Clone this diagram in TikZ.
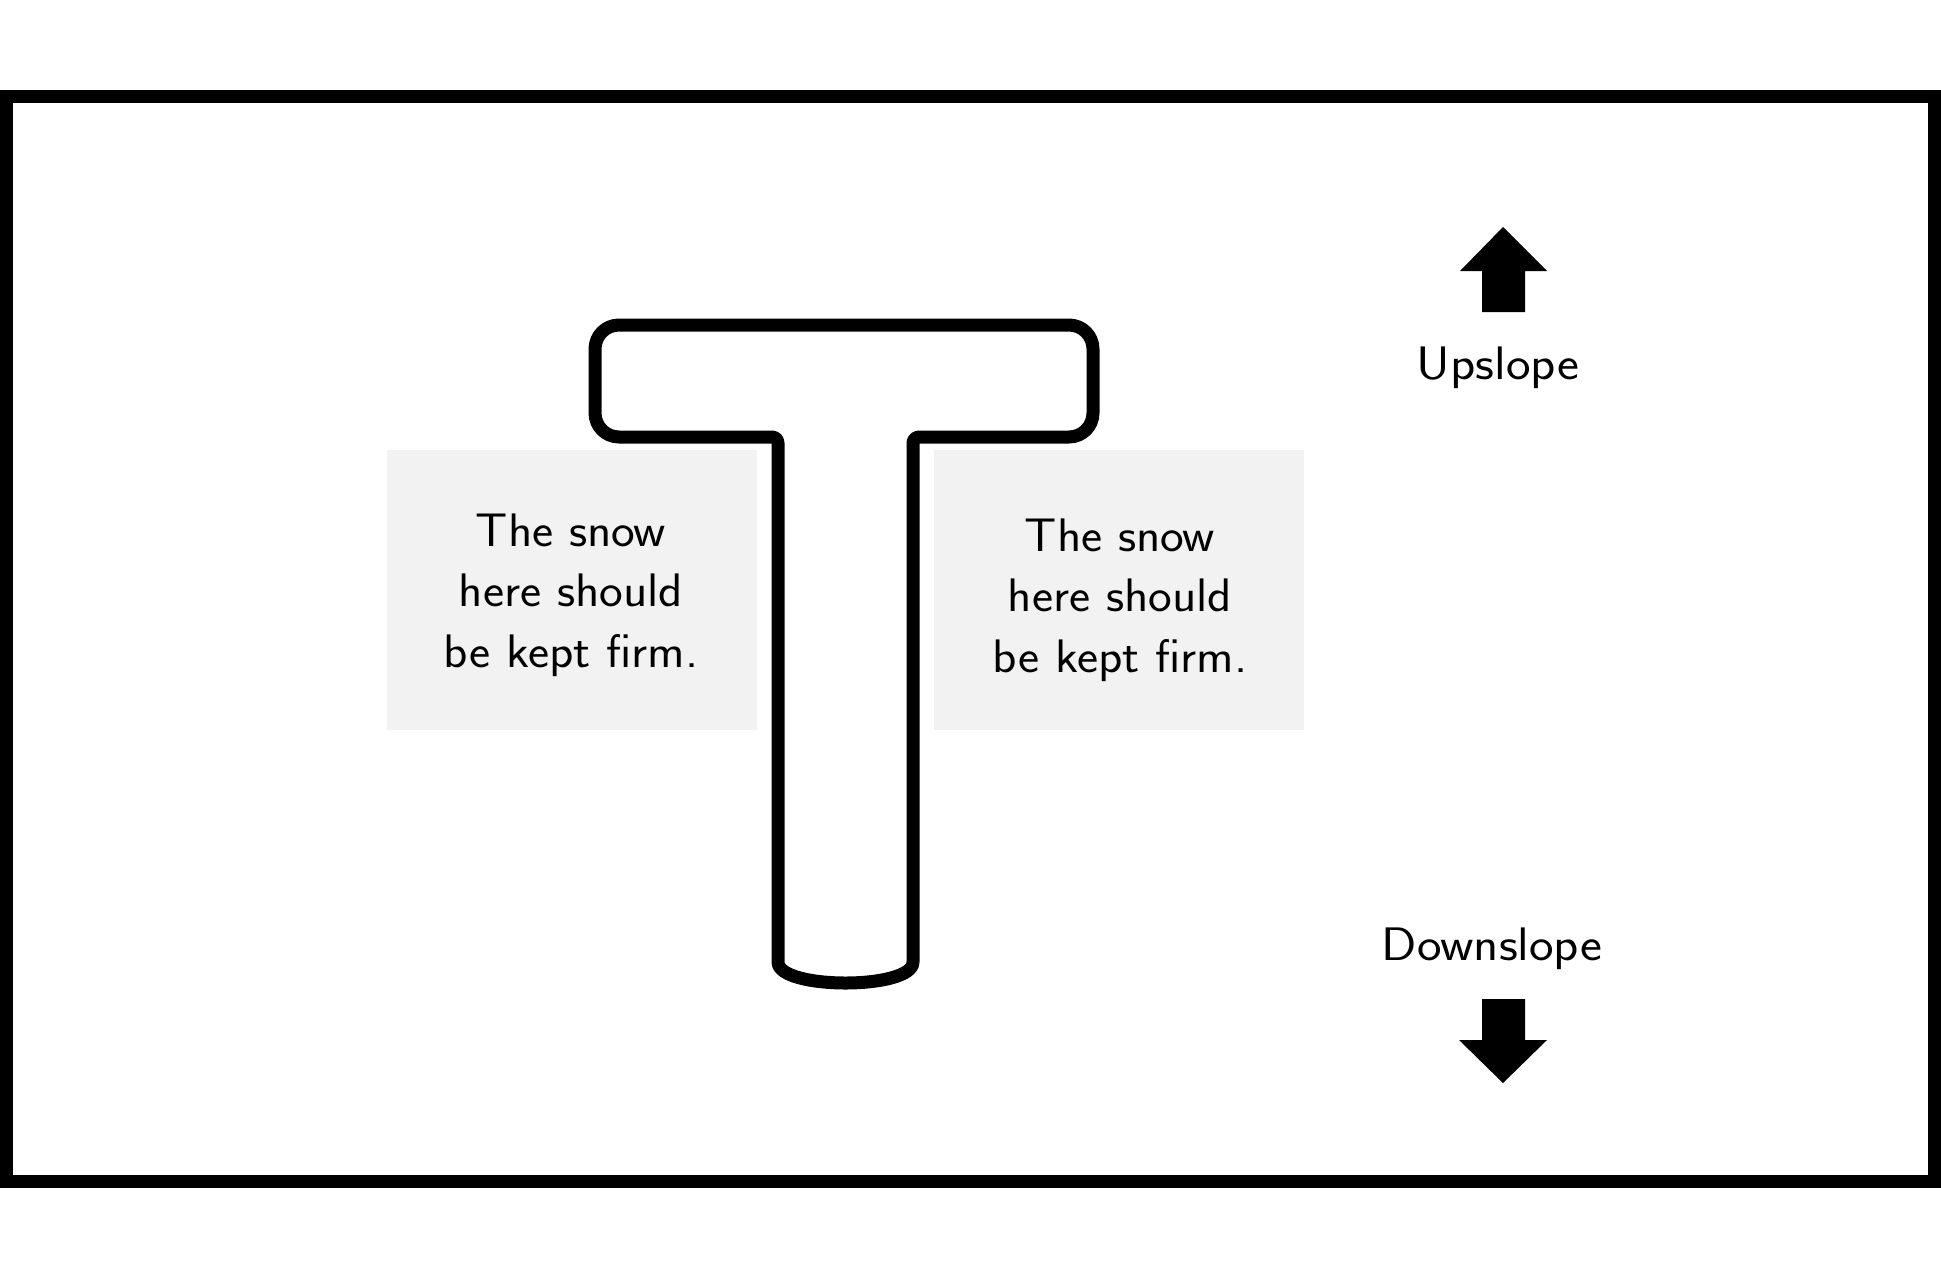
\documentclass[tikz,border=0pt]{standalone}
\usepackage{fontspec}
\definecolor{boxgray}{HTML}{F2F2F2}
\tikzset{
  frame/.style={line width=13pt},
  tline/.style={line width=13pt, line join=round},
  snowbox/.style={fill=boxgray, draw=none, minimum width=370pt, minimum height=280pt, inner sep=0pt},
  snowtext/.style={font=\sffamily\fontsize{47}{60.5}\selectfont, align=center, anchor=base, inner sep=0pt, xscale=1.07, transform shape},
  slopetext/.style={font=\sffamily\fontsize{47}{55}\selectfont, anchor=base, inner sep=0pt, xscale=1.11, transform shape},
  bigarrow/.style={fill=black}
}
\begin{document}
\begin{tikzpicture}[x=1pt,y=-1pt]
\useasboundingbox[fill=white] (0,0) rectangle (1941,1277);
% outer frame
\draw[frame] (6.5,96.5) rectangle (1934.5,1181.5);
% grey boxes
\node[snowbox] (leftbox) at (572,590) {};
\node[snowbox] (rightbox) at (1119,590) {};
% texts (anchored at the baseline of the last line)
\node[snowtext] (lefttext) at (571,667) {The snow\\here should\\be kept firm.};
\node[snowtext] (righttext) at (1120,672) {The snow\\here should\\be kept firm.};
% T shape
\draw[tline]
  (778,700) [rounded corners=6pt] -- (778,437) [rounded corners=24pt] -- (595,437) -- (595,325)
  -- (1093,325) -- (1093,437) [rounded corners=6pt] -- (913,437) [sharp corners] -- (913,962)
  .. controls (913,990) and (778,990) .. (778,962) -- cycle;
% arrows
\fill[bigarrow] (1482,312) -- (1482,271) -- (1460,271) -- (1503,227) -- (1547,271) -- (1525,271) -- (1525,312) -- cycle;
\fill[bigarrow] (1482,999) -- (1482,1040) -- (1459,1040) -- (1503,1083) -- (1547,1040) -- (1525,1040) -- (1525,999) -- cycle;
\node[slopetext] (up) at (1498,379) {Upslope};
\node[slopetext] (down) at (1492,960) {Downslope};
\end{tikzpicture}
\end{document}
